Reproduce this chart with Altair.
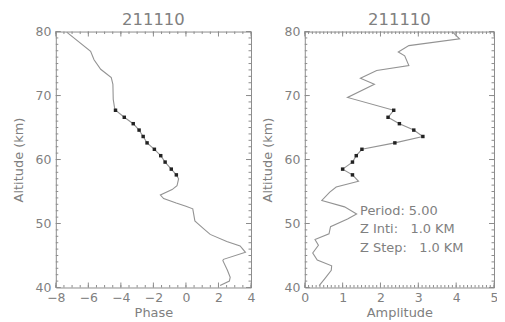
import altair as alt
import pandas as pd

title_text = "211110"

# Phase profile (altitude km, phase)
phase_alt = [79.9, 76.9, 75.6, 74.1, 72.8, 71.75, 69.4, 68.1, 67.7, 66.6, 65.6, 64.6, 63.6,
             62.6, 61.6, 60.6, 59.6, 58.5, 57.6, 57.0, 55.9, 55.3, 54.45, 53.9, 53.2, 52.7,
             52.3, 50.4, 50.1, 49.2, 48.3, 47.2, 46.5, 45.5, 44.4, 44.2, 42.7, 41.6, 41.0, 40.3]
phase_val = [-7.33, -5.86, -5.65, -5.24, -4.59, -4.49, -4.47, -4.39, -4.33, -3.79, -3.24, -2.88, -2.63,
             -2.39, -1.94, -1.55, -1.28, -0.90, -0.59, -0.45, -0.55, -0.85, -1.57, -1.37, -0.60, 0.0,
             0.42, 0.55, 0.68, 1.08, 1.49, 2.51, 3.33, 3.66, 2.31, 2.27, 2.55, 2.72, 2.67, 2.10]

# Amplitude profile (altitude km, amplitude)
amp_alt = [79.95, 78.86, 77.8, 76.8, 76.2, 74.7, 73.9, 72.7, 71.75, 69.7, 67.7, 66.6, 65.6, 64.6,
           63.6, 62.6, 61.6, 60.6, 59.6, 58.5, 57.6, 56.6, 55.7, 54.9, 53.6, 52.6, 51.5, 50.7,
           49.5, 48.4, 47.5, 46.6, 45.4, 44.3, 43.4, 42.7, 41.4, 40.3]
amp_val = [3.90, 4.09, 2.75, 2.47, 2.64, 2.75, 1.90, 1.47, 1.84, 1.13, 2.35, 2.20, 2.50, 2.88,
           3.12, 2.38, 1.51, 1.36, 1.26, 1.00, 1.26, 1.42, 0.83, 0.66, 0.45, 1.05, 1.37, 1.13,
           0.68, 0.64, 0.27, 0.36, 0.21, 0.33, 0.71, 0.70, 0.53, 0.38]

# Fitted points (markers)
marker_alt = [67.7, 66.6, 65.6, 64.6, 63.6, 62.6, 61.6, 60.6, 59.6, 58.5, 57.6]
marker_phase = [-4.33, -3.79, -3.24, -2.88, -2.63, -2.39, -1.94, -1.55, -1.28, -0.90, -0.59]
marker_amp = [2.35, 2.20, 2.50, 2.88, 3.12, 2.38, 1.51, 1.36, 1.26, 1.00, 1.26]

# Annotation
ann_text = ["Period: 5.00", "Z Inti:\u00a0\u00a0 1.0 KM", "Z Step:\u00a0\u00a0 1.0 KM"]
ann_x = [1.46, 1.46, 1.46]
ann_y = [52.0, 49.1, 46.2]

# Axis ticks
alt_ticks = [40, 50, 60, 70, 80]
alt_minor = list(range(40, 81))
phase_ticks = [-8, -6, -4, -2, 0, 2, 4]
phase_minor = [-8 + 0.5 * i for i in range(25)]
amp_ticks = [0, 1, 2, 3, 4, 5]
amp_minor = [round(0.1 * i, 1) for i in range(51)]

GRAY = "#808080"
LINE = "#939393"
FRAME = "#8c8c8c"
FONT = "DejaVu Sans"
H = 257


def panel(W, xvals, yvals, mvals, xdom, xmajor, xminor, xtitle, extra=None):
    xs = alt.Scale(domain=xdom, nice=False, zero=False)
    ys = alt.Scale(domain=[40, 80], nice=False, zero=False)
    common = dict(ticks=False, tickSize=0, domain=False, grid=False, labelFlush=False,
                  labelOverlap=False, labelFont=FONT, titleFont=FONT, labelFontSize=12.5,
                  titleFontSize=13, labelColor=GRAY, titleColor=GRAY, titleFontWeight="normal",
                  format="d")
    xaxis = alt.Axis(values=xmajor, title=xtitle, labelPadding=4, titlePadding=3, **common)
    yaxis = alt.Axis(values=alt_ticks, title="Altitude (km)", labelPadding=5, minExtent=20,
                     maxExtent=20, titlePadding=10, **common)

    def X(f):
        return alt.X(f, type="quantitative", scale=xs, axis=xaxis)

    def Y(f):
        return alt.Y(f, type="quantitative", scale=ys, axis=yaxis)

    df = pd.DataFrame({"val": xvals, "alt": yvals})
    line = alt.Chart(df).mark_line(color=LINE, strokeWidth=1.1).encode(
        x=X("val"), y=Y("alt"), order=alt.Order("alt:Q"))
    mdf = pd.DataFrame({"val": mvals, "alt": marker_alt})
    pts = alt.Chart(mdf).mark_point(shape="square", filled=True, size=12, color="#222222",
                                    opacity=1).encode(x=X("val"), y=Y("alt"))
    layers = [line, pts]
    for vals, ln in ((xmajor, 5), (xminor, 2.5)):
        tdf = pd.DataFrame({"val": vals})
        for y0, y1 in ((H, H - ln), (0, ln)):
            layers.append(alt.Chart(tdf).mark_rule(color=FRAME, strokeWidth=1).encode(
                x=X("val"), y=alt.value(y0), y2=alt.value(y1)))
    for vals, ln in ((alt_ticks, 5), (alt_minor, 2.5)):
        tdf = pd.DataFrame({"alt": vals})
        for x0, x1 in ((0, ln), (W, W - ln)):
            layers.append(alt.Chart(tdf).mark_rule(color=FRAME, strokeWidth=1).encode(
                y=Y("alt"), x=alt.value(x0), x2=alt.value(x1)))
    if extra is not None:
        tdf = pd.DataFrame({"val": ann_x, "alt": ann_y, "t": ann_text})
        layers.append(alt.Chart(tdf).mark_text(align="left", baseline="middle", font=FONT,
                                               fontSize=13, color=GRAY).encode(
            x=X("val"), y=Y("alt"), text="t:N"))
    return alt.layer(*layers).properties(
        width=W, height=H,
        title=alt.TitleParams(title_text, font=FONT, fontSize=16.5, fontWeight="normal",
                              color=GRAY, offset=-3),
    )


left = panel(196, phase_val, phase_alt, marker_phase, [-8, 4], phase_ticks, phase_minor, "Phase")
right = panel(190, amp_val, amp_alt, marker_amp, [0, 5], amp_ticks, amp_minor, "Amplitude",
              extra=True)

chart = alt.hconcat(left, right, spacing=54, bounds="flush").configure_view(
    stroke=FRAME, strokeWidth=1
).properties(padding={"left": 4, "top": 3, "right": -2, "bottom": 0}, background="white")

chart.save("out.html", embed_options={"renderer": "svg", "actions": False})
